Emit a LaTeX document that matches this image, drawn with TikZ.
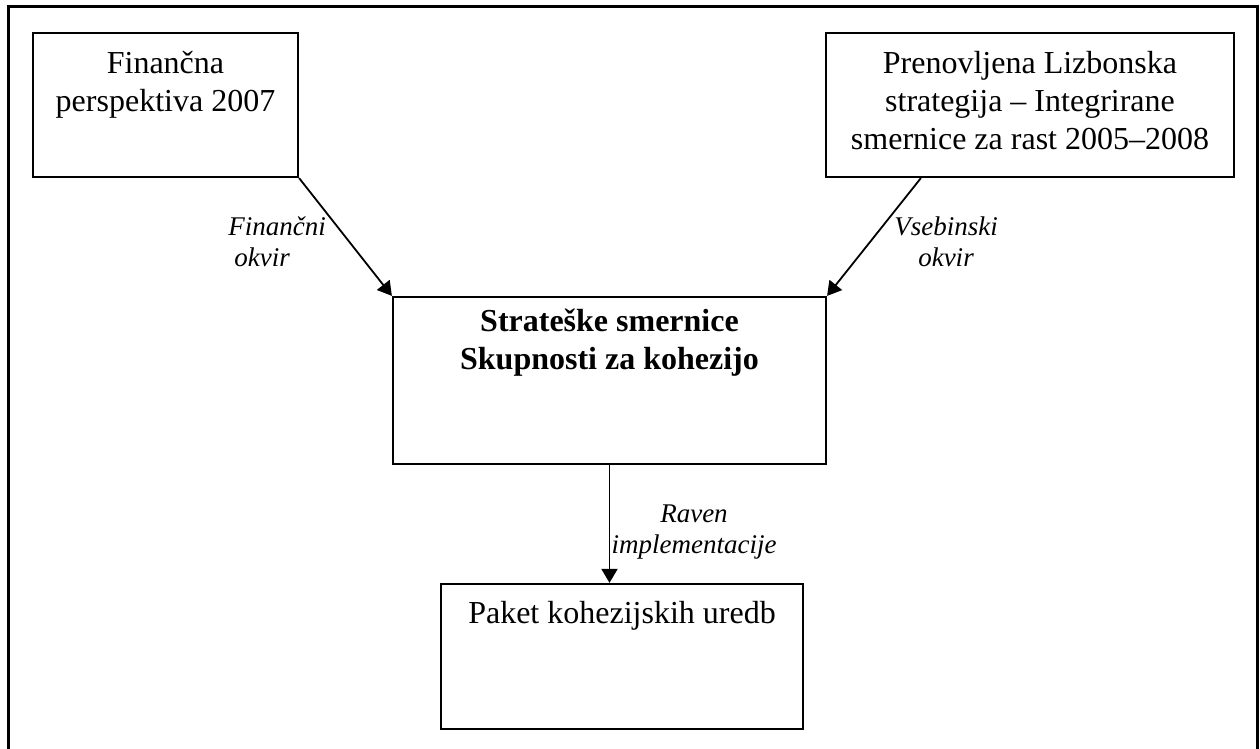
\documentclass[tikz,border=0pt]{standalone}
\usepackage{fontspec}
\setmainfont{Liberation Serif}
\usetikzlibrary{positioning,arrows.meta}
\tikzset{
  box/.style     = {draw, line width=1.1pt, inner sep=0pt},
  boxtext/.style = {align=center, inner sep=0pt, font=\fontsize{16}{19}\selectfont},
  lbl/.style     = {inner sep=0pt, font=\fontsize{13.5}{15.5}\selectfont\itshape},
  flow/.style    = {-{Triangle[length=7pt,width=8pt]}, line width=0.9pt},
}
\begin{document}
\begin{tikzpicture}[x=1pt,y=1pt]
  \useasboundingbox (0,0) rectangle (630,374.5);
  % outer frame, open at the bottom
  \draw[line width=1.5pt] (4,-3) -- (4,371) -- (628.5,371) -- (628.5,-3);
  % boxes
  \node[box, minimum width=132.5pt, minimum height=72pt] (fin) at (82.75,322) {};
  \node[boxtext, below=9.5pt of fin.north] (fintxt) {Finančna\\perspektiva 2007};
  \node[box, minimum width=204pt, minimum height=72pt] (lzb) at (515,322) {};
  \node[boxtext, below=9.5pt of lzb.north] (lzbtxt)
    {Prenovljena Lizbonska\\strategija – Integrirane\\smernice za rast 2005–2008};
  \node[box, minimum width=216.5pt, minimum height=83.5pt] (ssk) at (304.75,184.25) {};
  \node[boxtext, font=\fontsize{16}{19}\selectfont\bfseries, below=6.5pt of ssk.north] (ssktxt)
    {Strateške smernice\\Skupnosti za kohezijo};
  \node[box, minimum width=181pt, minimum height=72.5pt] (pku) at (311,46.25) {};
  \node[boxtext, below=9pt of pku.north] (pkutxt) {Paket kohezijskih uredb};
  % connectors
  \draw[flow] (fin.south east) -- (ssk.north west);
  \draw[flow] ([xshift=48pt]lzb.south west) -- (ssk.north east);
  \draw[flow] (ssk.south) -- (ssk.south |- pku.north);
  % connector labels
  \node[lbl, align=left, anchor=north west] (finlbl) at (114,266.5) {Finančni\\\hspace*{3pt}okvir};
  \node[lbl, align=center, anchor=north] (vsblbl) at (473,266.5) {Vsebinski\\okvir};
  \node[lbl, align=center, anchor=north] (ravlbl) at (347,122.5) {Raven\\implementacije};
\end{tikzpicture}
\end{document}
